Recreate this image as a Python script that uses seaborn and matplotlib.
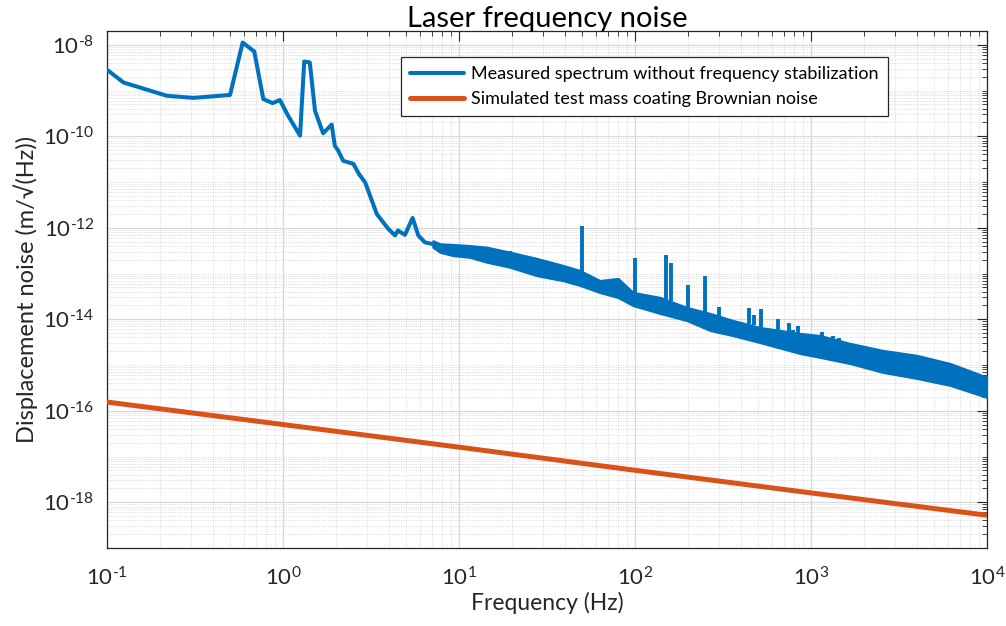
import numpy as np
import pandas as pd
import matplotlib
matplotlib.use("Agg")
import matplotlib.pyplot as plt
import matplotlib.ticker as mticker
from matplotlib.lines import Line2D
import seaborn as sns

# ---------------- data ----------------
f_low = [0.1, 0.124, 0.218, 0.309, 0.5, 0.59, 0.687, 0.773, 0.873, 0.96, 1.07,
         1.25, 1.32, 1.42, 1.52, 1.69, 1.89, 1.97, 2.05, 2.2, 2.51, 2.7, 2.93,
         3.41, 3.96, 4.33, 4.5, 4.93, 5.45, 5.87, 6.4, 7.11]
v_low = [2.85e-9, 1.5e-9, 7.7e-10, 6.9e-10, 8.0e-10, 1.12e-8, 7.1e-9, 6.5e-10,
         5.3e-10, 6.2e-10, 2.8e-10, 1.03e-10, 4.3e-9, 4.1e-9, 3.6e-10, 1.16e-10,
         1.8e-10, 6.2e-11, 5.0e-11, 2.9e-11, 2.5e-11, 1.5e-11, 9.8e-12,
         2.0e-12, 9.5e-13, 6.8e-13, 8.7e-13, 7.0e-13, 1.64e-12, 6.8e-13,
         4.8e-13, 4.4e-13]

# envelope of the dense noisy part of the measured spectrum
f_band = [7.11, 7.8, 9.25, 11.5, 14.4, 19.5, 27.7, 39.0, 48.7, 63.2, 80.0, 97.5,
          139, 197, 267, 360, 513, 866, 1125, 1667, 2566, 4000, 6166, 10000]
band_upper = [5.2e-13, 4.45e-13, 4.3e-13, 4.08e-13, 3.75e-13, 2.92e-13,
              2.13e-13, 1.5e-13, 1.16e-13, 7.0e-14, 7.8e-14, 3.85e-14, 3.0e-14,
              1.81e-14, 1.34e-14, 9.4e-15, 6.6e-15, 4.9e-15, 4.4e-15, 2.96e-15,
              2.08e-15, 1.62e-15, 1.08e-15, 5.4e-16]
band_lower = [3.75e-13, 2.92e-13, 2.47e-13, 2.27e-13, 1.77e-13, 1.37e-13,
              9.0e-14, 7.0e-14, 5.5e-14, 3.85e-14, 3.0e-14, 2.0e-14, 1.34e-14,
              9.4e-15, 5.7e-15, 4.4e-15, 3.1e-15, 1.79e-15, 1.47e-15, 1.08e-15,
              6.9e-16, 5.1e-16, 3.6e-16, 1.96e-16]

spike_f = [19.5, 50, 100, 150, 160, 200, 250, 300, 446, 475, 517, 646, 747, 795,
           839, 1148, 1337, 1446]
spike_peak = [3.1e-13, 1.12e-12, 2.2e-13, 2.6e-13, 1.74e-13, 5.7e-14, 9.0e-14,
              1.84e-14, 1.78e-14, 1.27e-14, 1.7e-14, 9.9e-15, 8.2e-15, 5.7e-15,
              7.0e-15, 5.4e-15, 4.2e-15, 3.9e-15]
spike_base = [2.2e-13, 1.0e-13, 3.5e-14, 2.6e-14, 2.5e-14, 1.8e-14, 1.4e-14,
              1.2e-14, 8.0e-15, 7.5e-15, 6.6e-15, 5.5e-15, 5.0e-15, 4.8e-15,
              4.7e-15, 4.2e-15, 3.6e-15, 3.4e-15]

f_sim = [0.1, 1, 10, 100, 1000, 10000]
v_sim = [1.55e-16, 5.0e-17, 1.6e-17, 5.0e-18, 1.6e-18, 5.2e-19]

label_meas = "Measured spectrum without frequency stabilization"
label_sim = "Simulated test mass coating Brownian noise"
title = "Laser frequency noise"
xlabel = "Frequency (Hz)"
ylabel = "Displacement noise (m/\u221a(Hz))"

BLUE = "#0072BD"
ORANGE = "#D95319"
DARK = "#262626"

# ---------------- style ----------------
sns.set_theme(style="white")
plt.rcParams["font.family"] = ["Lato", "DejaVu Sans"]
plt.rcParams["mathtext.default"] = "regular"
plt.rcParams["mathtext.fontset"] = "custom"
plt.rcParams["mathtext.rm"] = "Lato"
plt.rcParams["axes.unicode_minus"] = False

fig = plt.figure(figsize=(10.06, 6.26), dpi=100)
ax = fig.add_axes([107 / 1006, 1 - 548 / 626, 880 / 1006, 517 / 626])

df_low = pd.DataFrame({"f": f_low, "v": v_low})
df_sim = pd.DataFrame({"f": f_sim, "v": v_sim})

ax.set_xscale("log")
ax.set_yscale("log")

# measured spectrum
ax.fill_between(f_band, band_lower, band_upper, facecolor=BLUE, edgecolor=BLUE,
                linewidth=1.6, zorder=3)
ax.vlines(spike_f, spike_base, spike_peak, color=BLUE, linewidth=2.8, zorder=3)
sns.lineplot(data=df_low, x="f", y="v", ax=ax, color=BLUE, linewidth=2.9,
             sort=False, estimator=None, zorder=4)
# simulated
sns.lineplot(data=df_sim, x="f", y="v", ax=ax, color=ORANGE, linewidth=3.6,
             sort=False, estimator=None, zorder=4)

ax.set_xlim(0.1, 1e4)
ax.set_ylim(1e-19, 2e-8)

# ticks
ax.xaxis.set_major_locator(mticker.FixedLocator([10.0 ** k for k in range(-1, 5)]))
ax.xaxis.set_minor_locator(mticker.LogLocator(base=10, subs=np.arange(2, 10), numticks=20))
ax.yaxis.set_major_locator(mticker.FixedLocator([10.0 ** k for k in range(-18, -7, 2)]))
ax.yaxis.set_minor_locator(mticker.FixedLocator(
    [m * 10.0 ** k for k in range(-19, -7) for m in range(1, 10)]))
ax.xaxis.set_minor_formatter(mticker.NullFormatter())
ax.yaxis.set_minor_formatter(mticker.NullFormatter())

def fmt(val, pos):
    e = int(round(np.log10(val)))
    if e < 0:
        return "$10^{\u2010%d}$" % (-e)
    return "$10^{%d}$" % e

ax.xaxis.set_major_formatter(mticker.FuncFormatter(fmt))
ax.yaxis.set_major_formatter(mticker.FuncFormatter(fmt))

ax.tick_params(axis="both", which="both", direction="in", top=True, right=True,
               colors=DARK, labelcolor=DARK)
ax.tick_params(axis="both", which="major", length=7, width=0.8, labelsize=16)
ax.tick_params(axis="x", which="major", pad=13)
ax.tick_params(axis="y", which="major", pad=9)
ax.tick_params(axis="both", which="minor", length=3.5, width=0.6)

for s in ax.spines.values():
    s.set_color(DARK)
    s.set_linewidth(0.9)

ax.grid(True, which="major", color="#d9d9d9", linewidth=0.9, linestyle="-", zorder=0)
ax.grid(True, which="minor", color="#c8c8c8", linewidth=0.5, linestyle=(0, (1, 1.5)), zorder=0)
ax.set_axisbelow(True)

ax.set_xlabel(xlabel, fontsize=16.5, color=DARK)
ax.set_ylabel(ylabel, fontsize=17, color=DARK)
ax.xaxis.set_label_coords(0.5, -0.085)
ax.yaxis.set_label_coords(-0.078, 0.5)
ax.set_title(title, fontsize=21, color="black", pad=3)

handles = [Line2D([0], [0], color=BLUE, linewidth=2.9),
           Line2D([0], [0], color=ORANGE, linewidth=3.6)]
leg = ax.legend(handles, [label_meas, label_sim], loc="upper left",
                bbox_to_anchor=(0.334, 0.950), borderaxespad=0, fontsize=13,
                frameon=True, fancybox=False, framealpha=1, edgecolor=DARK,
                handlelength=3.0, handletextpad=0.4, borderpad=0.5,
                labelspacing=0.5)
leg.get_frame().set_linewidth(0.9)
for t in leg.get_texts():
    t.set_color("black")

fig.savefig("out.png", dpi=100)
